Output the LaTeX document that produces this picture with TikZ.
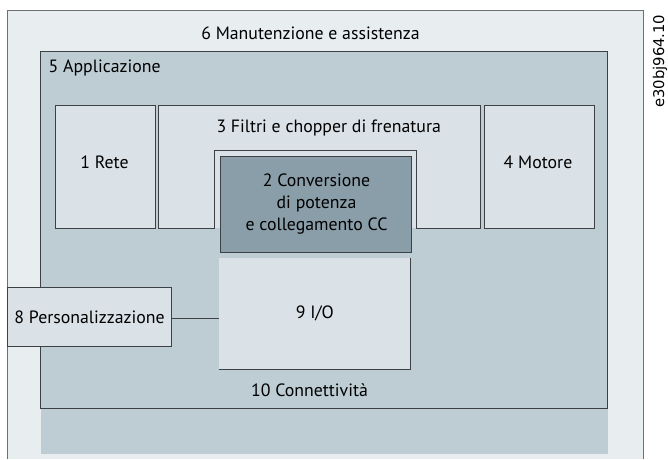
\documentclass[tikz,border=0pt]{standalone}
\usepackage{fontspec}
\setmainfont{PT Sans}
\newfontfamily\codefont{DejaVu Sans}
\definecolor{outerfill}{HTML}{E8EDF0}
\definecolor{appfill}{HTML}{BECDD4}
\definecolor{cellfill}{HTML}{DAE2E8}
\definecolor{convfill}{HTML}{8A9EA9}
\definecolor{edgecol}{HTML}{3B4145}
\newcommand{\panel}[5]{ \filldraw[fill=#5, draw=edgecol, line width=0.9pt] ( #1 , #2 ) rectangle ( #3 , #4 );}
\newcommand{\textnode}[4]{\node[inner sep=0pt, align=center] (#1) at ( #2 , #3 ) {#4};}

\begin{document}
\begin{tikzpicture}[x=1pt, y=-1pt, font=\fontsize{17.8}{22}\selectfont]
        \useasboundingbox (0,0) rectangle (668,459);
        \fill[outerfill] (7.5,10.5) rectangle (643.5,459);
        \draw[edgecol!75, line width=0.9pt] (7.5,459) -- (7.5,10.5) -- (643.5,10.5) -- (643.5,459);
        \fill[appfill] (40.5,51) rectangle (607.5,454);
        \panel{40.5}{51}{607.5}{408.3}{appfill}
        \panel{55.5}{105.3}{155.7}{228.3}{cellfill}
        \fill[cellfill] (158.3,105.3) rectangle (480.7,228.3);
        \draw[edgecol, line width=0.9pt] (158.3,228.3) -- (158.3,105.3) -- (480.7,105.3) -- (480.7,228.3) -- (416.7,228.3) -- (416.7,150.7) -- (214.3,150.7) -- (214.3,228.3) -- cycle;
        \panel{484.3}{105.3}{594}{228.3}{cellfill}
        \panel{220}{156}{411.7}{252.3}{convfill}
        \node[fill=cellfill, minimum width=191.7, minimum height=111.6, inner sep=0pt] (io) at (314.85,313.5) {9 I/O};
        \draw[edgecol, line width=0.9pt] (io.north east) -- (io.south east) -- (io.south west);
        \node[fill=cellfill, draw=edgecol, line width=0.9pt, minimum width=164.2, minimum height=58.3, inner sep=0pt] (pers) at (89.6,316.85) {8 Personalizzazione};
        \draw[edgecol, line width=0.9pt] ([yshift=-2pt]pers.east) -- ([yshift=-2pt]pers.east -| io.west);
        \textnode{maint}{310.5}{33}{6 Manutenzione e assistenza}
        \node[inner sep=0pt, anchor=west] (app) at (48.5,68) {5 Applicazione};
        \textnode{rete}{104.5}{162}{1 Rete}
        \textnode{filt}{328.7}{128.3}{3 Filtri e chopper di frenatura}
        \textnode{mot}{538}{162}{4 Motore}
        \textnode{conv}{316.5}{204.3}{2 Conversione\\di potenza\\e collegamento CC}
        \textnode{conn}{309.5}{390}{10 Connettività}
        \node[inner sep=0pt, rotate=90, anchor=base west, font=\codefont\fontsize{14.8}{18}\selectfont] (code) at (664,108) {e30bj964.10};
    \end{tikzpicture}
\end{document}
